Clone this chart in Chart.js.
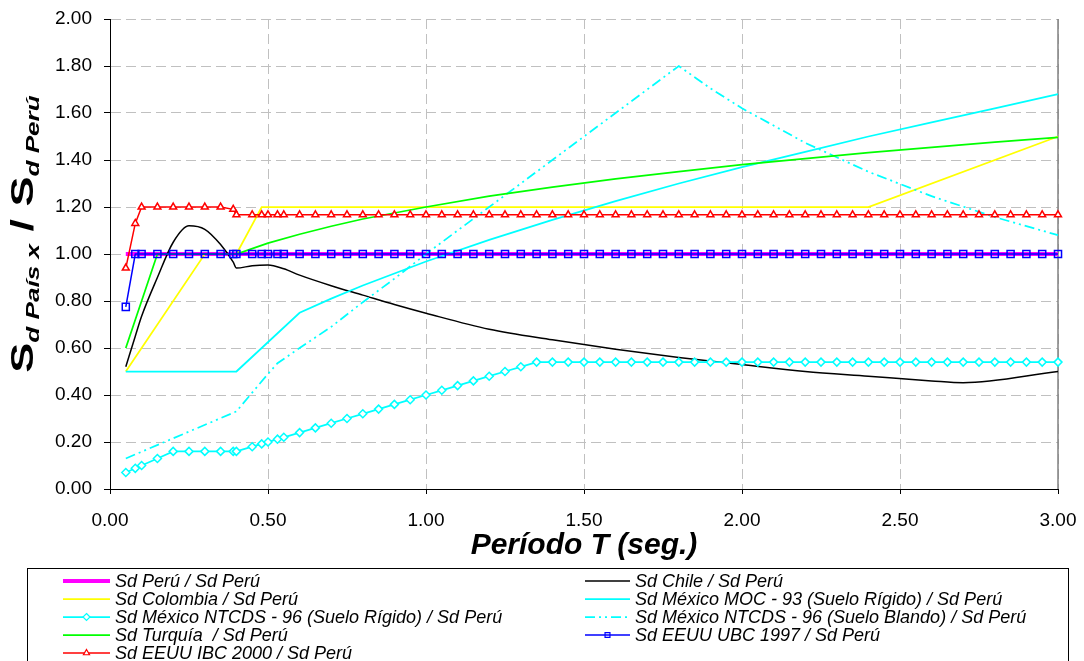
<!DOCTYPE html>
<html lang="es">
<head>
<meta charset="UTF-8">
<title>Sd País X / Sd Perú</title>
<script src="https://cdn.jsdelivr.net/npm/chart.js"></script>
<style>
  body { margin: 0; background: #fff; }
  #wrap { width: 1084px; height: 661px; }
</style>
</head>
<body>
<div id="wrap"><canvas id="chart" width="1084" height="661"></canvas></div>
<script>
  const FAMILY = "'Liberation Sans', Arial, sans-serif";

  // periodos comunes (series con marcadores)
  const periodos = [
    0.05, 0.08, 0.10, 0.15, 0.20, 0.25, 0.30, 0.35, 0.39, 0.40, 0.45, 0.48, 0.50, 0.53, 0.55, 0.60,
    0.65, 0.70, 0.75, 0.80, 0.85, 0.90, 0.95, 1.00, 1.05, 1.10, 1.15, 1.20, 1.25, 1.30, 1.35, 1.40,
    1.45, 1.50, 1.55, 1.60, 1.65, 1.70, 1.75, 1.80, 1.85, 1.90, 1.95, 2.00, 2.05, 2.10, 2.15, 2.20,
    2.25, 2.30, 2.35, 2.40, 2.45, 2.50, 2.55, 2.60, 2.65, 2.70, 2.75, 2.80, 2.85, 2.90, 2.95, 3.00
  ];

  const ibc2000 = [
    0.94, 1.13, 1.20, 1.20, 1.20, 1.20, 1.20, 1.20, 1.19, 1.167, 1.167, 1.167, 1.167, 1.167, 1.167, 1.167,
    1.167, 1.167, 1.167, 1.167, 1.167, 1.167, 1.167, 1.167, 1.167, 1.167, 1.167, 1.167, 1.167, 1.167, 1.167, 1.167,
    1.167, 1.167, 1.167, 1.167, 1.167, 1.167, 1.167, 1.167, 1.167, 1.167, 1.167, 1.167, 1.167, 1.167, 1.167, 1.167,
    1.167, 1.167, 1.167, 1.167, 1.167, 1.167, 1.167, 1.167, 1.167, 1.167, 1.167, 1.167, 1.167, 1.167, 1.167, 1.167
  ];

  const ubc1997 = [
    0.775, 1.00, 1.00, 1.00, 1.00, 1.00, 1.00, 1.00, 1.00, 1.00, 1.00, 1.00, 1.00, 1.00, 1.00, 1.00,
    1.00, 1.00, 1.00, 1.00, 1.00, 1.00, 1.00, 1.00, 1.00, 1.00, 1.00, 1.00, 1.00, 1.00, 1.00, 1.00,
    1.00, 1.00, 1.00, 1.00, 1.00, 1.00, 1.00, 1.00, 1.00, 1.00, 1.00, 1.00, 1.00, 1.00, 1.00, 1.00,
    1.00, 1.00, 1.00, 1.00, 1.00, 1.00, 1.00, 1.00, 1.00, 1.00, 1.00, 1.00, 1.00, 1.00, 1.00, 1.00
  ];

  const ntcdsRigido = [
    0.07, 0.088, 0.10, 0.13, 0.16, 0.16, 0.16, 0.16, 0.16, 0.16, 0.18, 0.192, 0.20, 0.212, 0.22, 0.24,
    0.26, 0.28, 0.30, 0.32, 0.34, 0.36, 0.38, 0.40, 0.42, 0.44, 0.46, 0.48, 0.50, 0.52, 0.54, 0.54,
    0.54, 0.54, 0.54, 0.54, 0.54, 0.54, 0.54, 0.54, 0.54, 0.54, 0.54, 0.54, 0.54, 0.54, 0.54, 0.54,
    0.54, 0.54, 0.54, 0.54, 0.54, 0.54, 0.54, 0.54, 0.54, 0.54, 0.54, 0.54, 0.54, 0.54, 0.54, 0.54
  ];

  // series sin marcadores, cada una con sus propios periodos
  const tPeru = [0.05, 3.00];
  const sdPeru = [1.00, 1.00];

  const tChile = [0.05, 0.08, 0.10, 0.15, 0.20, 0.25, 0.30, 0.35, 0.39, 0.40, 0.45, 0.50, 0.55, 0.60,
                  0.70, 0.80, 0.90, 1.00, 1.20, 1.40, 1.60, 1.80, 2.00, 2.20, 2.40, 2.60, 2.70, 3.00];
  const sdChile = [0.52, 0.65, 0.735, 0.90, 1.05, 1.12, 1.105, 1.04, 0.965, 0.94, 0.95, 0.953, 0.937, 0.91,
                   0.865, 0.825, 0.785, 0.748, 0.68, 0.635, 0.595, 0.56, 0.53, 0.50, 0.48, 0.46, 0.452, 0.50];

  const tColombia = [0.05, 0.30, 0.40, 0.48, 2.40, 3.00];
  const sdColombia = [0.50, 1.00, 1.00, 1.20, 1.20, 1.50];

  const tMoc = [0.05, 0.40, 0.60, 0.70, 0.80, 1.00, 1.20, 1.40, 1.60, 1.80, 2.00, 2.20, 2.40, 2.60, 2.80, 3.00];
  const sdMoc = [0.50, 0.50, 0.75, 0.81, 0.866, 0.968, 1.06, 1.145, 1.225, 1.30, 1.37, 1.435, 1.50, 1.56, 1.62, 1.68];

  const tBlando = [0.05, 0.40, 0.45, 0.50, 0.53, 0.60, 0.70, 0.80, 0.90, 1.00, 1.80, 1.90, 2.00, 2.20, 2.40, 2.60, 2.80, 3.00];
  const sdBlando = [0.13, 0.33, 0.41, 0.49, 0.535, 0.60, 0.69, 0.795, 0.895, 1.00, 1.80, 1.705, 1.62, 1.473, 1.35, 1.246, 1.157, 1.08];

  const tTurquia = [0.05, 0.15, 0.40, 0.50, 0.60, 0.70, 0.80, 1.00, 1.20, 1.40, 1.60, 1.80, 2.00, 2.20, 2.40, 2.60, 2.80, 3.00];
  const sdTurquia = [0.60, 1.00, 1.00, 1.046, 1.084, 1.118, 1.149, 1.20, 1.246, 1.285, 1.32, 1.351, 1.38, 1.406, 1.431, 1.454, 1.476, 1.496];

  function pts(xs, ys) {
    return xs.map((x, i) => ({ x: x, y: ys[i] }));
  }

  const series = [
    { label: 'Sd Perú / Sd Perú', data: pts(tPeru, sdPeru), borderColor: '#ff00ff', borderWidth: 4, pointRadius: 0 },
    { label: 'Sd Chile / Sd Perú', data: pts(tChile, sdChile), borderColor: '#000000', borderWidth: 1.5, pointRadius: 0,
      cubicInterpolationMode: 'monotone' },
    { label: 'Sd Colombia / Sd Perú', data: pts(tColombia, sdColombia), borderColor: '#ffff00', borderWidth: 1.75, pointRadius: 0 },
    { label: 'Sd México MOC - 93 (Suelo Rígido) / Sd Perú', data: pts(tMoc, sdMoc), borderColor: '#00ffff', borderWidth: 1.75, pointRadius: 0 },
    { label: 'Sd México NTCDS - 96 (Suelo Rígido) / Sd Perú', data: pts(periodos, ntcdsRigido), borderColor: '#00ffff', borderWidth: 1.75,
      pointStyle: 'rectRot', pointRadius: 4, pointBorderWidth: 1.5, pointBorderColor: '#00ffff', pointBackgroundColor: '#ffffff' },
    { label: 'Sd México NTCDS - 96 (Suelo Blando) / Sd Perú', data: pts(tBlando, sdBlando), borderColor: '#00ffff', borderWidth: 1.75,
      borderDash: [10, 4, 2, 4, 2, 4], pointRadius: 0 },
    { label: 'Sd Turquía  / Sd Perú', data: pts(tTurquia, sdTurquia), borderColor: '#00ff00', borderWidth: 1.75, pointRadius: 0 },
    { label: 'Sd EEUU UBC 1997 / Sd Perú', data: pts(periodos, ubc1997), borderColor: '#0000ff', borderWidth: 1.5,
      pointStyle: 'rect', pointRadius: 5, pointBorderWidth: 1.5, pointBorderColor: '#0000ff', pointBackgroundColor: 'rgba(0,0,0,0)' },
    { label: 'Sd EEUU IBC 2000 / Sd Perú', data: pts(periodos, ibc2000), borderColor: '#ff0000', borderWidth: 1.5,
      pointStyle: 'triangle', pointRadius: 4, pointBorderWidth: 1.5, pointBorderColor: '#ff0000', pointBackgroundColor: '#ffffff' }
  ];

  // later series are painted above earlier ones
  series.forEach((s, i) => {
    s.order = series.length - i;
    s.fill = false;
    s.clip = false;
  });

  function drawMarker(ctx, style, x, y, r) {
    ctx.beginPath();
    if (style === 'triangle') {
      ctx.moveTo(x, y - r);
      ctx.lineTo(x + r * 0.87, y + r * 0.5);
      ctx.lineTo(x - r * 0.87, y + r * 0.5);
      ctx.closePath();
    } else if (style === 'rect') {
      ctx.rect(x - r * 0.7, y - r * 0.7, r * 1.4, r * 1.4);
    } else if (style === 'rectRot') {
      ctx.moveTo(x, y - r);
      ctx.lineTo(x + r, y);
      ctx.lineTo(x, y + r);
      ctx.lineTo(x - r, y);
      ctx.closePath();
    }
    ctx.fill();
    ctx.stroke();
  }

  // solid frame line on the right edge of the plot
  const bordeDerecho = {
    id: 'bordeDerecho',
    beforeDatasetsDraw(chart) {
      const { ctx, chartArea } = chart;
      ctx.save();
      ctx.strokeStyle = '#808080';
      ctx.lineWidth = 1.5;
      ctx.beginPath();
      ctx.moveTo(chartArea.right, chartArea.top);
      ctx.lineTo(chartArea.right, chartArea.bottom);
      ctx.stroke();
      ctx.restore();
    }
  };

  // two-column legend box under the axis title
  const leyenda = {
    id: 'leyenda',
    afterDraw(chart) {
      const ctx = chart.ctx;
      ctx.save();
      ctx.strokeStyle = '#000';
      ctx.lineWidth = 1;
      ctx.strokeRect(27.5, 568.5, 1041, 120);
      chart.data.datasets.forEach((ds, i) => {
        const col = i % 2, row = Math.floor(i / 2);
        const x0 = col ? 585 : 63, x1 = col ? 630 : 110;
        const y = 581 + row * 18;
        ctx.save();
        ctx.strokeStyle = ds.borderColor;
        ctx.lineWidth = ds.borderWidth;
        ctx.setLineDash(ds.borderDash || []);
        ctx.beginPath();
        ctx.moveTo(x0, y);
        ctx.lineTo(x1, y);
        ctx.stroke();
        ctx.setLineDash([]);
        if (ds.pointRadius) {
          ctx.lineWidth = 1.2;
          ctx.strokeStyle = ds.pointBorderColor;
          ctx.fillStyle = ds.pointBackgroundColor;
          drawMarker(ctx, ds.pointStyle, (x0 + x1) / 2, y, 3.5);
        }
        ctx.restore();
        ctx.font = 'italic 18px ' + FAMILY;
        ctx.textBaseline = 'middle';
        ctx.fillStyle = '#000';
        ctx.fillText(ds.label, x1 + 5, y + 1);
      });
      ctx.restore();
    }
  };

  // y axis title with subscripts, written bottom to top
  const tituloY = {
    id: 'tituloY',
    afterDraw(chart) {
      const ctx = chart.ctx;
      const partes = [
        { t: 'S', f: 'bold 31px ' + FAMILY, dy: 0 },
        { t: 'd País x', f: 'italic bold 18px ' + FAMILY, dy: 6 },
        { t: ' / S', f: 'bold 31px ' + FAMILY, dy: 0 },
        { t: 'd Perú', f: 'italic bold 18px ' + FAMILY, dy: 6 }
      ];
      ctx.save();
      ctx.translate(33, 234);
      ctx.rotate(-Math.PI / 2);
      ctx.scale(1.45, 1);
      let total = 0;
      partes.forEach(p => { ctx.font = p.f; p.w = ctx.measureText(p.t).width; total += p.w; });
      let x = -total / 2;
      ctx.fillStyle = '#000';
      ctx.textBaseline = 'alphabetic';
      partes.forEach(p => { ctx.font = p.f; ctx.fillText(p.t, x, p.dy); x += p.w; });
      ctx.restore();
    }
  };

  const tickFont = { size: 19, family: FAMILY };

  new Chart(document.getElementById('chart'), {
    type: 'line',
    data: { datasets: series },
    options: {
      responsive: false,
      animation: false,
      events: [],
      layout: { padding: { left: 0, top: 19, right: 26, bottom: 0 } },
      plugins: { legend: { display: false }, tooltip: { enabled: false } },
      scales: {
        x: {
          type: 'linear',
          min: 0,
          max: 3,
          afterFit: s => { s.height = 172; s.paddingLeft = 0; s.paddingRight = 0; },
          ticks: { stepSize: 0.5, padding: 15, color: '#000', font: tickFont, maxRotation: 0, autoSkip: false,
                   callback: v => v.toFixed(2) },
          grid: { color: '#c0c0c0', tickColor: '#000', tickLength: 5 },
          border: { color: '#000', width: 1, dash: [10, 5] },
          title: { display: true, text: 'Período T (seg.)', color: '#000',
                   font: { size: 30, weight: 'bold', style: 'italic', family: FAMILY },
                   padding: { top: 0, bottom: 97 } }
        },
        y: {
          min: 0,
          max: 2,
          afterFit: s => { s.width = 110; s.paddingTop = 0; s.paddingBottom = 0; },
          ticks: { stepSize: 0.2, padding: 12, color: '#000', font: tickFont, callback: v => v.toFixed(2) },
          grid: { color: '#c0c0c0', tickColor: '#000', tickLength: 6 },
          border: { color: '#000', width: 1, dash: [10, 5] }
        }
      }
    },
    plugins: [bordeDerecho, leyenda, tituloY]
  });
</script>
</body>
</html>
